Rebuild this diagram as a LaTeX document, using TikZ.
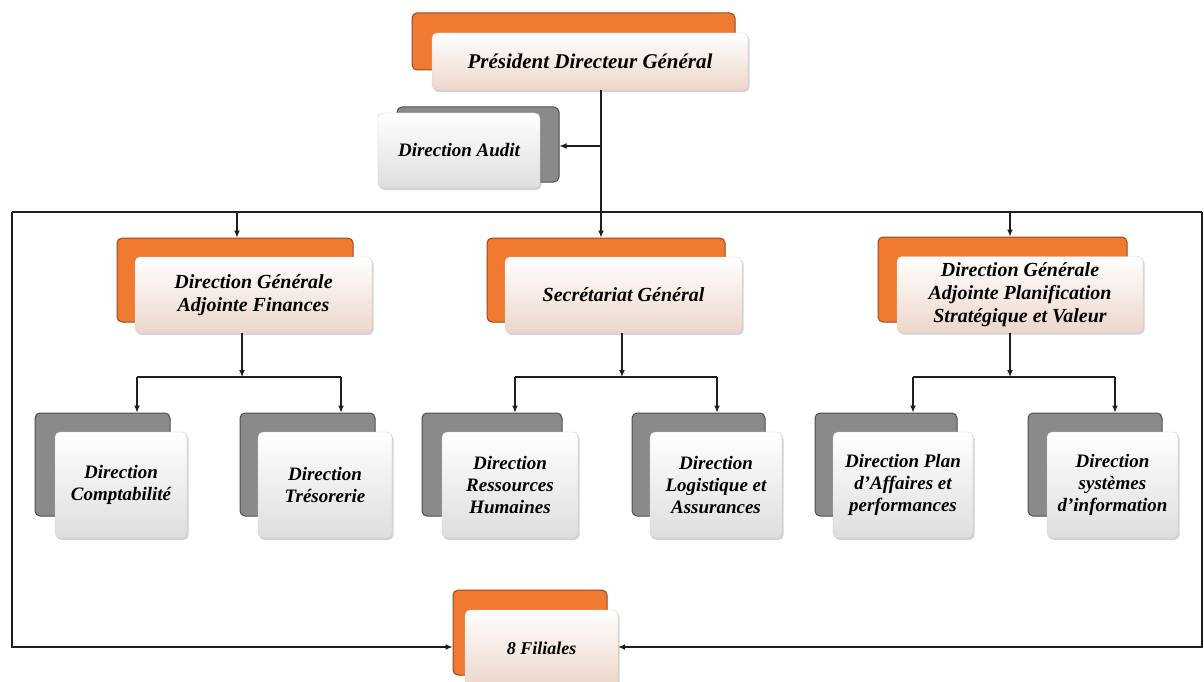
\documentclass[tikz,border=0pt]{standalone}
\usepackage{fontspec}
\setmainfont{Liberation Serif}
\usetikzlibrary{arrows.meta,shadows,calc}
\definecolor{backorange}{RGB}{240,122,48}
\definecolor{orangeedge}{RGB}{150,72,30}
\definecolor{frontpeach}{RGB}{249,224,210}
\definecolor{backgray}{RGB}{138,138,138}
\definecolor{grayedge}{RGB}{78,78,78}
\definecolor{frontgray}{RGB}{222,222,222}
\definecolor{linecolor}{RGB}{30,30,30}

\tikzset{
  orangeback/.style={rounded corners=5pt, draw=orangeedge, line width=1pt, fill=backorange, inner sep=0pt},
  grayback/.style={rounded corners=5pt, draw=grayedge, line width=1pt, fill=backgray, inner sep=0pt},
  peachfront/.style={rounded corners=5pt, draw=frontpeach!80!gray, line width=0.4pt, top color=white, middle color=frontpeach, bottom color=frontpeach!90!gray,
    drop shadow={opacity=0.35, shadow xshift=1.5pt, shadow yshift=-2pt}, inner sep=0pt, align=center, font=\fontsize{20}{23}\selectfont\bfseries\itshape},
  grayfront/.style={rounded corners=5pt, draw=frontgray!80!gray, line width=0.4pt, top color=white, middle color=frontgray!70!white, bottom color=frontgray,
    drop shadow={opacity=0.35, shadow xshift=1.5pt, shadow yshift=-2pt}, inner sep=0pt, align=center, font=\fontsize{19}{22}\selectfont\bfseries\itshape},
  conn/.style={draw=linecolor, line width=1.2pt},
  arr/.style={conn, -{Latex[length=7pt,width=6pt]}}
}

\begin{document}
\begin{tikzpicture}[x=1pt,y=-1pt]
  \useasboundingbox (0,0) rectangle (1204,682);

  % Président Directeur Général
  \node[orangeback, minimum width=323pt, minimum height=57pt] (pdg-b) at (573.5,41.5) {};
  \node[peachfront, minimum width=316pt, minimum height=57pt, font=\fontsize{21}{24}\selectfont\bfseries\itshape] (pdg) at (590,61.5) {Président Directeur Général};

  % Direction Audit
  \node[grayback, minimum width=162pt, minimum height=75pt] (audit-b) at (478,144.5) {};
  \node[grayfront, minimum width=162pt, minimum height=75pt] (audit) at (459,150.5) {Direction Audit};

  % Second level
  \node[orangeback, minimum width=236pt, minimum height=84pt] (dgaf-b) at (235,280) {};
  \node[peachfront, minimum width=237pt, minimum height=76pt] (dgaf) at (253.5,295) {Direction Générale\\Adjointe Finances};

  \node[orangeback, minimum width=238pt, minimum height=84pt] (sg-b) at (606,280) {};
  \node[peachfront, minimum width=237pt, minimum height=76pt] (sg) at (623.5,295) {Secrétariat Général};

  \node[orangeback, minimum width=249pt, minimum height=85pt] (dgap-b) at (1002.5,279.5) {};
  \node[peachfront, minimum width=246pt, minimum height=76pt] (dgap) at (1020,294.5) {Direction Générale\\Adjointe Planification\\Stratégique et Valeur};

  % Directions
  \node[grayback, minimum width=135pt, minimum height=103pt] (compta-b) at (102.5,464.5) {};
  \node[grayfront, minimum width=132pt, minimum height=106pt] (compta) at (121,485) {Direction\\Comptabilité};

  \node[grayback, minimum width=135pt, minimum height=103pt] (treso-b) at (307.5,464.5) {};
  \node[grayfront, minimum width=134pt, minimum height=106pt] (treso) at (325,485) {Direction\\Trésorerie};

  \node[grayback, minimum width=140pt, minimum height=103pt] (rh-b) at (492,464.5) {};
  \node[grayfront, minimum width=136pt, minimum height=106pt] (rh) at (510,485) {Direction\\Ressources\\Humaines};

  \node[grayback, minimum width=133pt, minimum height=103pt] (logi-b) at (698.5,464.5) {};
  \node[grayfront, minimum width=132pt, minimum height=106pt] (logi) at (716,485) {Direction\\Logistique et\\Assurances};

  \node[grayback, minimum width=142pt, minimum height=103pt] (plan-b) at (886,464.5) {};
  \node[grayfront, minimum width=140pt, minimum height=106pt] (plan) at (903,485) {Direction Plan\\d'Affaires et\\performances};

  \node[grayback, minimum width=134pt, minimum height=103pt] (si-b) at (1095,464.5) {};
  \node[grayfront, minimum width=131pt, minimum height=106pt] (si) at (1112.5,485) {Direction\\systèmes\\d'information};

  % Filiales
  \node[orangeback, minimum width=154pt, minimum height=85pt] (fil-b) at (530,632.5) {};
  \node[peachfront, minimum width=153pt, minimum height=76pt, font=\fontsize{18}{21}\selectfont\bfseries\itshape] (fil) at (541.5,648) {8 Filiales};

  % Lines from the top
  \coordinate (t0) at (601,212);
  \coordinate (a0) at (601,146);
  \coordinate (tl) at (12,212);
  \coordinate (tr) at (1202,212);
  \coordinate (bl) at (12,647);
  \coordinate (br) at (1202,647);
  \draw[conn] (t0 |- pdg.south) -- (t0);
  \draw[arr] (a0) -- (a0 -| audit-b.east);
  \draw[conn] (tl) -- (tr);
  \draw[arr] (tl) -- (bl) -- (bl -| fil-b.west);
  \draw[arr] (tr) -- (br) -- (br -| fil.east);

  % Down to the second level
  \coordinate (d1) at (237,212);
  \coordinate (d2) at (601,212);
  \coordinate (d3) at (1010,212);
  \draw[arr] (d1) -- (d1 |- dgaf-b.north);
  \draw[arr] (d2) -- (d2 |- sg-b.north);
  \draw[arr] (d3) -- (d3 |- dgap-b.north);

  % Branches to the directions
  \coordinate (j1) at (242,377);
  \coordinate (j2) at (622,377);
  \coordinate (j3) at (1010,377);
  \draw[arr] (j1 |- dgaf.south) -- (j1);
  \draw[arr] (j2 |- sg.south) -- (j2);
  \draw[arr] (j3 |- dgap.south) -- (j3);

  \coordinate (l1) at (137,377);
  \coordinate (r1) at (341,377);
  \coordinate (l2) at (515,377);
  \coordinate (r2) at (717,377);
  \coordinate (l3) at (913,377);
  \coordinate (r3) at (1115,377);
  \draw[conn] (l1) -- (r1);
  \draw[conn] (l2) -- (r2);
  \draw[conn] (l3) -- (r3);
  \draw[arr] (l1) -- (l1 |- compta-b.north);
  \draw[arr] (r1) -- (r1 |- treso-b.north);
  \draw[arr] (l2) -- (l2 |- rh-b.north);
  \draw[arr] (r2) -- (r2 |- logi-b.north);
  \draw[arr] (l3) -- (l3 |- plan-b.north);
  \draw[arr] (r3) -- (r3 |- si-b.north);
\end{tikzpicture}
\end{document}
